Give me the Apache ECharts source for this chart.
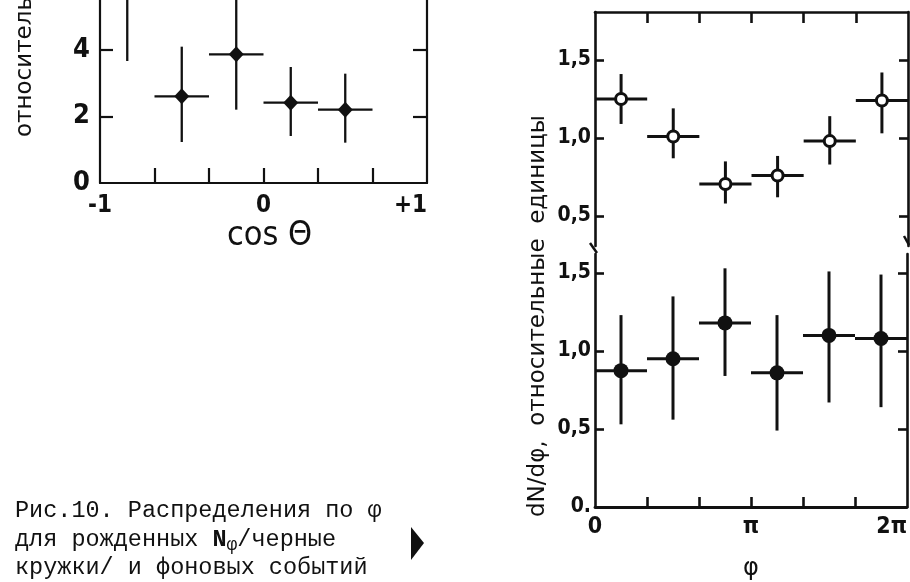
<!DOCTYPE html>
<html>
<head>
<meta charset="utf-8">
<script src="https://cdn.jsdelivr.net/npm/echarts@6/dist/echarts.min.js"></script>
<style>html,body{margin:0;padding:0;background:#fff}#c{width:910px;height:582px}</style>
</head>
<body>
<div id="c"></div>
<script>
// ---- data: left panel, distribution in cos(theta) ----
const cosCenters = [-0.8333, -0.5, -0.1667, 0.1667, 0.5];
const cosValues  = [5.6, 2.6, 3.86, 2.41, 2.2];
const cosLow     = [3.66, 1.23, 2.2, 1.41, 1.21];
const cosHigh    = [7.5, 4.09, 5.6, 3.48, 3.28];
const cosHalfBin = 0.1667;
const cosTicks   = [-0.6667, -0.3333, 0, 0.3333, 0.6667];
const cosLabels  = [-1, 0, 1];
const cosYTicks  = [2, 4];
const cosYLabels = [0, 2, 4];

// ---- data: right panels, distribution in phi (units of pi) ----
const phiCenters = [0.1667, 0.5, 0.8333, 1.1667, 1.5, 1.8333];
const phiHalfBin = 0.1667;
const phiTicks   = [0.3333, 0.6667, 1, 1.3333, 1.6667];
const phiLabels  = [0, 1, 2];
// background events (open circles, upper panel)
const bgValues = [1.25, 1.01, 0.705, 0.76, 0.98, 1.24];
const bgLow    = [1.09, 0.87, 0.58, 0.62, 0.83, 1.03];
const bgHigh   = [1.41, 1.19, 0.85, 0.885, 1.14, 1.42];
// produced N_phi (filled circles, lower panel)
const nValues = [0.874, 0.95, 1.18, 0.86, 1.10, 1.08];
const nLow    = [0.53, 0.56, 0.84, 0.49, 0.67, 0.64];
const nHigh   = [1.23, 1.35, 1.53, 1.23, 1.51, 1.49];
const phiYTicks = [0.5, 1.0, 1.5];

const INK = '#111';
const tickFont = "'DejaVu Sans Condensed', 'Liberation Sans', sans-serif";

function build(centers, vals, lo, hi, hw) {
  return centers.map((c, i) => [c, vals[i], lo[i], hi[i], hw]);
}
function errSeries(xi, yi, data, lw) {
  return {
    type: 'custom', xAxisIndex: xi, yAxisIndex: yi, data: data, clip: true, z: 2,
    encode: { x: 0, y: 1 },
    renderItem: function (params, api) {
      const x = api.value(0), v = api.value(1), l = api.value(2), h = api.value(3), w = api.value(4);
      const a = api.coord([x - w, v]), b = api.coord([x + w, v]);
      const p = api.coord([x, l]), q = api.coord([x, h]);
      return { type: 'group', children: [
        { type: 'line', shape: { x1: a[0], y1: a[1], x2: b[0], y2: b[1] }, style: { stroke: INK, lineWidth: lw } },
        { type: 'line', shape: { x1: p[0], y1: p[1], x2: q[0], y2: q[1] }, style: { stroke: INK, lineWidth: lw } }
      ] };
    }
  };
}
const cosData = build(cosCenters, cosValues, cosLow, cosHigh, cosHalfBin);
const bgData = build(phiCenters, bgValues, bgLow, bgHigh, phiHalfBin);
const nData = build(phiCenters, nValues, nLow, nHigh, phiHalfBin);

const axLine = (w) => ({ show: true, onZero: false, lineStyle: { color: INK, width: w } });
const fmtComma = v => (v === 0 ? '0.' : v.toFixed(1).replace('.', ','));

const option = {
  backgroundColor: '#fff',
  animation: false,
  grid: [
    { left: 100, top: -12, width: 327, height: 195, show: false },
    { left: 595, top: 12, width: 313, height: 234, show: false },
    { left: 595, top: 254, width: 313, height: 253, show: false }
  ],
  xAxis: [
    { type: 'value', gridIndex: 0, min: -1, max: 1, position: 'bottom',
      axisLine: axLine(2.2), splitLine: { show: false },
      axisTick: { show: true, inside: true, length: 15, customValues: cosTicks, lineStyle: { color: INK, width: 2.2 } },
      axisLabel: { customValues: cosLabels, color: INK, fontFamily: tickFont, fontWeight: 'bold', fontSize: 24, margin: 11,
        alignMaxLabel: 'right', formatter: v => (v < 0 ? '-1' : v > 0 ? '+1' : '0') },
      name: 'cos Θ', nameLocation: 'middle', nameGap: 33,
      nameTextStyle: { color: INK, fontFamily: tickFont, fontSize: 34, padding: [0, 0, 0, 12] } },
    { type: 'value', gridIndex: 1, min: 0, max: 2, position: 'top',
      axisLine: axLine(2.6), splitLine: { show: false },
      axisTick: { show: true, inside: true, length: 11, customValues: phiTicks, lineStyle: { color: INK, width: 2.6 } },
      axisLabel: { show: false } },
    { type: 'value', gridIndex: 2, min: 0, max: 2, position: 'bottom',
      axisLine: axLine(2.8), splitLine: { show: false },
      axisTick: { show: true, inside: true, length: 10, customValues: phiTicks, lineStyle: { color: INK, width: 2.6 } },
      axisLabel: { customValues: phiLabels, color: INK, fontFamily: tickFont, fontWeight: 'bold', fontSize: 23, margin: 9,
        alignMaxLabel: 'right', formatter: v => (v === 0 ? '0' : v === 1 ? 'π' : '2π') },
      name: 'φ', nameLocation: 'middle', nameGap: 50,
      nameTextStyle: { color: INK, fontFamily: 'DejaVu Sans', fontSize: 24 } }
  ],
  yAxis: [
    { type: 'value', gridIndex: 0, min: 0, max: 5.49, position: 'left',
      axisLine: axLine(2.2), splitLine: { show: false },
      axisTick: { show: true, inside: true, length: 13, customValues: cosYTicks, lineStyle: { color: INK, width: 2.2 } },
      axisLabel: { customValues: cosYLabels, color: INK, fontFamily: tickFont, fontWeight: 'bold', fontSize: 27, margin: 10 } },
    { type: 'value', gridIndex: 0, min: 0, max: 5.49, position: 'right',
      axisLine: axLine(2.2), splitLine: { show: false },
      axisTick: { show: true, inside: true, length: 14, customValues: cosYTicks, lineStyle: { color: INK, width: 2.2 } },
      axisLabel: { show: false } },
    { type: 'value', gridIndex: 1, min: 0.3077, max: 1.8077, position: 'left',
      axisLine: axLine(2.6), splitLine: { show: false },
      axisTick: { show: true, inside: true, length: 9, customValues: phiYTicks, lineStyle: { color: INK, width: 2.6 } },
      axisLabel: { customValues: phiYTicks, color: INK, fontFamily: tickFont, fontWeight: 'bold', fontSize: 21, margin: 4, formatter: fmtComma } },
    { type: 'value', gridIndex: 1, min: 0.3077, max: 1.8077, position: 'right',
      axisLine: axLine(2.6), splitLine: { show: false },
      axisTick: { show: true, inside: true, length: 9, customValues: phiYTicks, lineStyle: { color: INK, width: 2.6 } },
      axisLabel: { show: false } },
    { type: 'value', gridIndex: 2, min: 0, max: 1.6218, position: 'left',
      axisLine: axLine(2.6), splitLine: { show: false },
      axisTick: { show: true, inside: true, length: 9, customValues: phiYTicks, lineStyle: { color: INK, width: 2.6 } },
      axisLabel: { customValues: [0, 0.5, 1.0, 1.5], color: INK, fontFamily: tickFont, fontWeight: 'bold', fontSize: 21, margin: 4, formatter: fmtComma } },
    { type: 'value', gridIndex: 2, min: 0, max: 1.6218, position: 'right',
      axisLine: axLine(2.6), splitLine: { show: false },
      axisTick: { show: true, inside: true, length: 9, customValues: phiYTicks, lineStyle: { color: INK, width: 2.6 } },
      axisLabel: { show: false } }
  ],
  series: [
    errSeries(0, 0, cosData, 2.3),
    { type: 'scatter', xAxisIndex: 0, yAxisIndex: 0, z: 3, clip: true,
      data: cosCenters.map((c, i) => [c, cosValues[i]]),
      symbol: 'diamond', symbolSize: [15, 16], itemStyle: { color: INK, opacity: 1 } },
    errSeries(1, 2, bgData, 3),
    { type: 'scatter', xAxisIndex: 1, yAxisIndex: 2, z: 3,
      data: phiCenters.map((c, i) => [c, bgValues[i]]),
      symbol: 'circle', symbolSize: 11, itemStyle: { color: '#fff', borderColor: INK, borderWidth: 3, opacity: 1 } },
    errSeries(2, 4, nData, 3),
    { type: 'scatter', xAxisIndex: 2, yAxisIndex: 4, z: 3,
      data: phiCenters.map((c, i) => [c, nValues[i]]),
      symbol: 'circle', symbolSize: 15, itemStyle: { color: INK, opacity: 1 } }
  ],
  graphic: [
    { type: 'text', x: 25, y: 137, rotation: Math.PI / 2,
      style: { text: 'относительные  единицы', fill: INK, font: "23px 'DejaVu Sans'", align: 'left', verticalAlign: 'middle' } },
    { type: 'text', x: 538, y: 517, rotation: Math.PI / 2,
      style: { text: 'dN/dφ,  относительные  единицы', fill: INK, font: "23px 'DejaVu Sans'", align: 'left', verticalAlign: 'middle' } },
    { type: 'line', shape: { x1: 590, y1: 243, x2: 597, y2: 253 }, style: { stroke: INK, lineWidth: 2.5 } },
    { type: 'line', shape: { x1: 904, y1: 236, x2: 909, y2: 245 }, style: { stroke: INK, lineWidth: 2.5 } },
    { type: 'text', x: 15, y: 511,
      style: { text: 'Рис.10. Распределения по φ', fill: INK, font: "23.5px 'Liberation Mono'", verticalAlign: 'middle' } },
    { type: 'text', x: 15, y: 540,
      style: { text: 'для рожденных {n|N}{s|φ}/черные', fill: INK, font: "23.5px 'Liberation Mono'", verticalAlign: 'middle',
        rich: { n: { font: "bold 23.5px 'Liberation Mono'", fill: INK }, s: { font: "18px 'Liberation Mono'", fill: INK, padding: [10, 0, 0, 0] } } } },
    { type: 'text', x: 15, y: 568,
      style: { text: 'кружки/ и фоновых событий', fill: INK, font: "23.5px 'Liberation Mono'", verticalAlign: 'middle' } },
    { type: 'polygon', shape: { points: [[411, 527], [424, 543], [411, 560]] }, style: { fill: INK } }
  ]
};
const chart = echarts.init(document.getElementById('c'), null, { renderer: 'canvas' });
chart.setOption(option);
</script>
</body>
</html>
